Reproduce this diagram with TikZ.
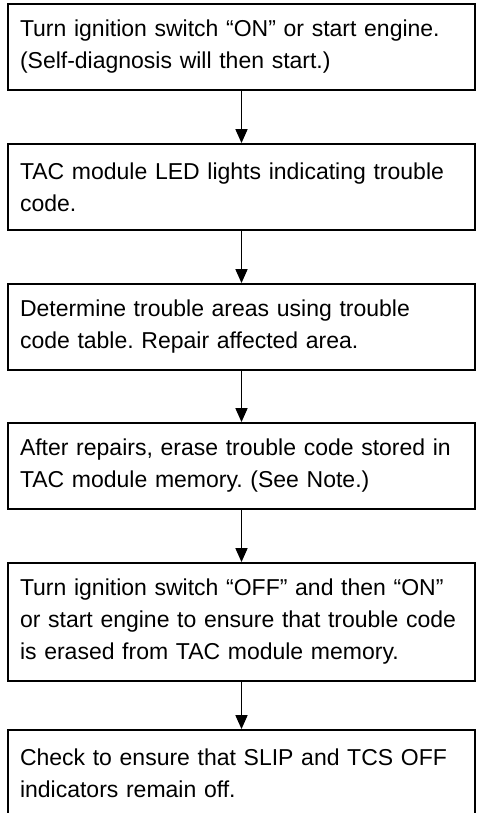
\documentclass[tikz,border=0pt]{standalone}
\usepackage{fontspec}
\setmainfont{Liberation Sans}
\usepackage{tikz}
\usetikzlibrary{arrows.meta,positioning}

\begin{document}
\frenchspacing
\begin{tikzpicture}[x=1pt,y=1pt,>={Triangle[width=12pt,length=14pt]},
 font=\fontsize{23}{32}\selectfont,
 stepbox/.style={draw,line width=1.8pt,align=left,text width=443pt,inner xsep=12pt,inner ysep=0pt,minimum height=86pt},
 flow/.style={->,line width=1.6pt}]
\fill[white] (0,0) rectangle (477,-813);
\clip (0,0) rectangle (477,-813);
\node[stepbox] (start) at (241.5,-47) {Turn ignition switch “ON” or start engine.\\(Self-diagnosis will then start.)};
\node[stepbox] (led) at (241.5,-187) {TAC module LED lights indicating trouble\\code.};
\node[stepbox] (repair) at (241.5,-327) {Determine trouble areas using trouble\\code table. Repair affected area.};
\node[stepbox] (erase) at (241.5,-466) {After repairs, erase trouble code stored in\\TAC module memory. (See Note.)};
\node[stepbox,minimum height=118pt] (recheck) at (241.5,-622) {Turn ignition switch “OFF” and then “ON”\\or start engine to ensure that trouble code\\is erased from TAC module memory.};
\node[stepbox] (lamps) at (241.5,-773) {Check to ensure that SLIP and TCS OFF\\indicators remain off.};
\draw[flow] (start) -- (led);
\draw[flow] (led) -- (repair);
\draw[flow] (repair) -- (erase);
\draw[flow] (erase) -- (recheck);
\draw[flow] (recheck) -- (lamps);
\end{tikzpicture}
\end{document}
